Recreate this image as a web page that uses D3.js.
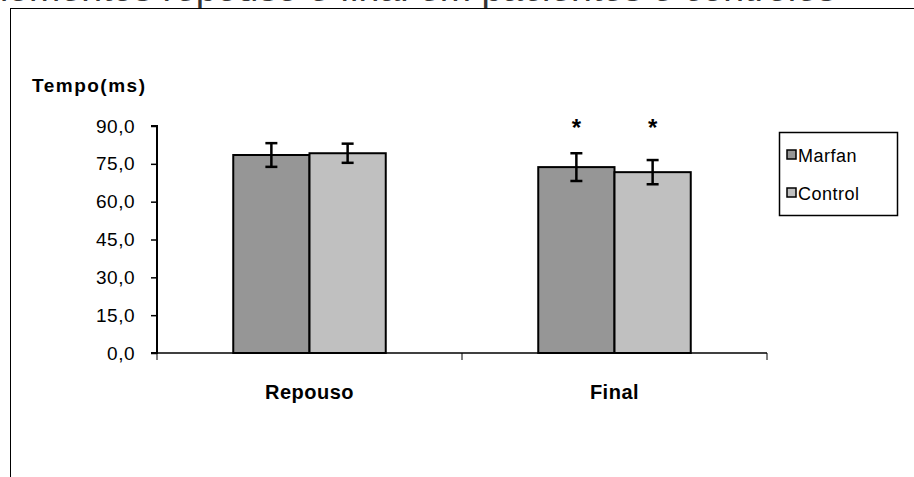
<!DOCTYPE html>
<html>
<head>
<meta charset="utf-8">
<script src="https://cdn.jsdelivr.net/npm/d3@7"></script>
<style>
  body { margin: 0; background: #fff; }
  svg { display: block; font-family: "Liberation Sans", Arial, sans-serif; }
</style>
</head>
<body>
<div id="chart"></div>
<script>
// data
var categories = ["Repouso", "Final"];
var seriesNames = ["Marfan", "Control"];
var marfanValues = [78.5, 73.7];
var marfanErrors = [4.7, 5.5];
var controlValues = [79.2, 71.7];
var controlErrors = [3.8, 4.8];
var significant = [[false, false], [true, true]];
var yTicks = [0, 15, 30, 45, 60, 75, 90];

var colors = { Marfan: "#969696", Control: "#c0c0c0" };

var width = 914, height = 477;

var svg = d3.select("#chart").append("svg")
  .attr("width", width)
  .attr("height", height);

// title line, mostly cut off above the chart area
svg.append("text")
  .attr("x", -23)
  .attr("y", 0.8)
  .attr("fill", "#333")
  .style("font-size", "37.5px")
  .text("momentos repouso e final em pacientes e controles");

// chart area
svg.append("rect")
  .attr("x", 10.5)
  .attr("y", 8.5)
  .attr("width", 1000)
  .attr("height", 600)
  .attr("fill", "#fff")
  .attr("stroke", "#000")
  .attr("stroke-width", 1);

var plot = { left: 157, right: 767, top: 126, bottom: 353 };

var x = d3.scaleBand()
  .domain(categories)
  .range([plot.left, plot.right]);

var x1 = d3.scaleBand()
  .domain(seriesNames)
  .range([x.bandwidth() * 0.25, x.bandwidth() * 0.75]);

var y = d3.scaleLinear()
  .domain([0, 90])
  .range([plot.bottom, plot.top]);

var rows = [];
categories.forEach(function(c, i) {
  rows.push({ cat: c, series: "Marfan", value: marfanValues[i], err: marfanErrors[i], sig: significant[i][0] });
  rows.push({ cat: c, series: "Control", value: controlValues[i], err: controlErrors[i], sig: significant[i][1] });
});

// bars
svg.selectAll(".bar")
  .data(rows)
  .enter().append("rect")
  .attr("class", "bar")
  .attr("x", function(d) { return x(d.cat) + x1(d.series); })
  .attr("y", function(d) { return y(d.value); })
  .attr("width", x1.bandwidth())
  .attr("height", function(d) { return y(0) - y(d.value); })
  .attr("fill", function(d) { return colors[d.series]; })
  .attr("stroke", "#000")
  .attr("stroke-width", 2);

// error bars
var errs = svg.selectAll(".err")
  .data(rows)
  .enter().append("g")
  .attr("class", "err")
  .attr("transform", function(d) {
    return "translate(" + (x(d.cat) + x1(d.series) + x1.bandwidth() / 2) + ",0)";
  });

errs.append("line")
  .attr("y1", function(d) { return y(d.value + d.err); })
  .attr("y2", function(d) { return y(d.value - d.err); })
  .attr("stroke", "#000")
  .attr("stroke-width", 2.5);

errs.selectAll(".cap")
  .data(function(d) { return [d.value + d.err, d.value - d.err]; })
  .enter().append("line")
  .attr("x1", -6)
  .attr("x2", 6)
  .attr("y1", function(v) { return y(v); })
  .attr("y2", function(v) { return y(v); })
  .attr("stroke", "#000")
  .attr("stroke-width", 2.5);

// asterisks
svg.selectAll(".star")
  .data(rows.filter(function(d) { return d.sig; }))
  .enter().append("text")
  .attr("class", "star")
  .attr("x", function(d) { return x(d.cat) + x1(d.series) + x1.bandwidth() / 2; })
  .attr("y", 136)
  .attr("text-anchor", "middle")
  .style("font-size", "24px")
  .style("font-weight", "bold")
  .text("*");

// axes
var yAxis = d3.axisLeft(y)
  .tickValues(yTicks)
  .tickSize(6)
  .tickPadding(16)
  .tickFormat(function(d) { return d3.format(".1f")(d).replace(".", ","); });

var gy = svg.append("g")
  .attr("transform", "translate(" + plot.left + ",0)")
  .call(yAxis);
gy.select(".domain").attr("stroke-width", 2).attr("d", "M-6," + y(90) + "H0V" + y(0) + "H-6");
gy.selectAll(".tick line").attr("stroke-width", 1.5);
gy.selectAll(".tick text")
  .style("font-size", "19px")
  .style("letter-spacing", "0.5px")
  .attr("fill", "#000");

var gx = svg.append("g")
  .attr("transform", "translate(0," + plot.bottom + ")");
gx.append("line")
  .attr("x1", plot.left)
  .attr("x2", plot.right)
  .attr("stroke", "#000")
  .attr("stroke-width", 1.5);
gx.selectAll(".xtick")
  .data([plot.left, x("Final"), plot.right])
  .enter().append("line")
  .attr("x1", function(d) { return d; })
  .attr("x2", function(d) { return d; })
  .attr("y1", 0)
  .attr("y2", 7)
  .attr("stroke", "#000")
  .attr("stroke-width", 1);
gx.selectAll(".xlabel")
  .data(categories)
  .enter().append("text")
  .attr("x", function(d) { return x(d) + x.bandwidth() / 2; })
  .attr("y", 46)
  .attr("text-anchor", "middle")
  .style("font-size", "20px")
  .style("font-weight", "bold")
  .style("letter-spacing", "0.5px")
  .text(function(d) { return d; });

// y title
svg.append("text")
  .attr("x", 32)
  .attr("y", 92)
  .style("font-size", "19px")
  .style("font-weight", "bold")
  .style("letter-spacing", "1.5px")
  .text("Tempo(ms)");

// legend
var legend = svg.append("g").attr("transform", "translate(779,132)");
legend.append("rect")
  .attr("x", 0.5)
  .attr("y", 0.5)
  .attr("width", 118)
  .attr("height", 83)
  .attr("fill", "#fff")
  .attr("stroke", "#000")
  .attr("stroke-width", 1.5);

var items = legend.selectAll(".item")
  .data(seriesNames)
  .enter().append("g")
  .attr("transform", function(d, i) { return "translate(8," + (23 + i * 38) + ")"; });
items.append("rect")
  .attr("x", 0)
  .attr("y", -5)
  .attr("width", 9)
  .attr("height", 9)
  .attr("fill", function(d) { return colors[d]; })
  .attr("stroke", "#000")
  .attr("stroke-width", 1.5);
items.append("text")
  .attr("x", 11)
  .attr("y", 7)
  .style("font-size", "18px")
  .style("letter-spacing", "0.5px")
  .text(function(d) { return d; });
</script>
</body>
</html>
